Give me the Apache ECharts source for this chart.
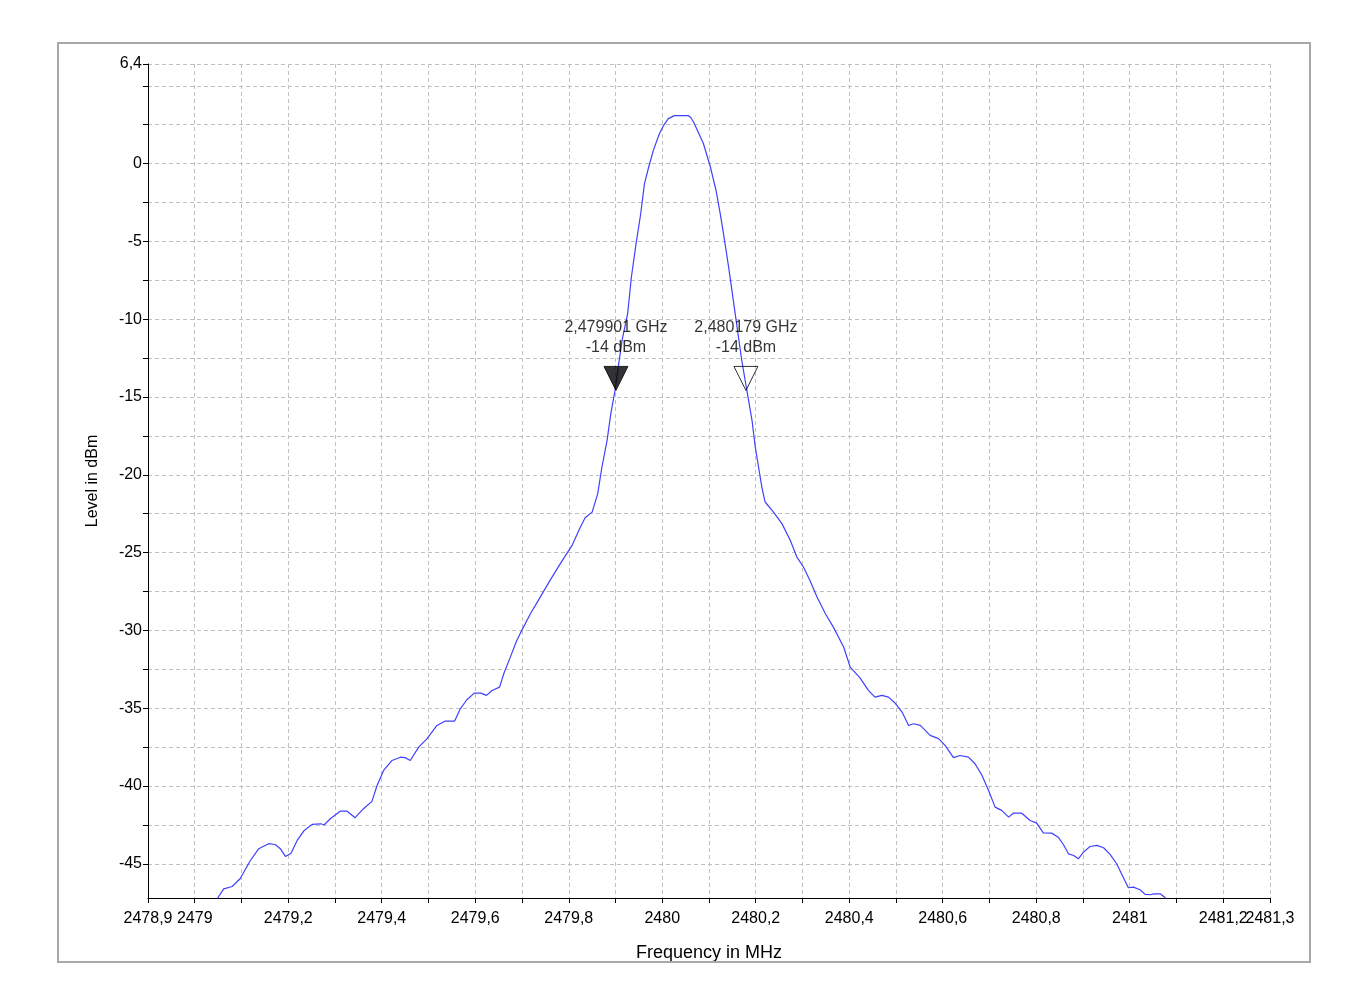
<!DOCTYPE html>
<html>
<head>
<meta charset="utf-8">
<title>Spectrum</title>
<script src="https://cdn.jsdelivr.net/npm/echarts@6/dist/echarts.min.js"></script>
<style>
  html, body { margin: 0; padding: 0; background: #fff; }
  #chart { width: 1370px; height: 1007px; }
</style>
</head>
<body>
<div id="chart"></div>
<script>
// frequency in MHz, level in dBm
var freqs = [
  2479.040, 2479.048, 2479.062, 2479.080, 2479.097, 2479.119, 2479.137, 2479.158, 2479.172, 2479.183,
  2479.194, 2479.206, 2479.219, 2479.233, 2479.251, 2479.269, 2479.277, 2479.290, 2479.311, 2479.326,
  2479.343, 2479.361, 2479.379, 2479.390, 2479.404, 2479.422, 2479.440, 2479.450, 2479.461, 2479.479,
  2479.497, 2479.518, 2479.536, 2479.556, 2479.568, 2479.582, 2479.598, 2479.612, 2479.624, 2479.636,
  2479.652, 2479.661, 2479.675, 2479.689, 2479.696, 2479.718, 2479.739, 2479.760, 2479.782, 2479.807,
  2479.825, 2479.835, 2479.850, 2479.862, 2479.871, 2479.882, 2479.890, 2479.899, 2479.906, 2479.914,
  2479.926, 2479.934, 2479.944, 2479.954, 2479.962, 2479.971, 2479.981, 2479.993, 2480.003, 2480.013,
  2480.026, 2480.056, 2480.061, 2480.067, 2480.088, 2480.103, 2480.115, 2480.124, 2480.131, 2480.142,
  2480.152, 2480.162, 2480.170, 2480.181, 2480.192, 2480.199, 2480.206, 2480.213, 2480.220, 2480.238,
  2480.256, 2480.274, 2480.288, 2480.302, 2480.316, 2480.331, 2480.349, 2480.366, 2480.388, 2480.402,
  2480.423, 2480.441, 2480.455, 2480.470, 2480.484, 2480.498, 2480.513, 2480.527, 2480.537, 2480.552,
  2480.573, 2480.591, 2480.605, 2480.623, 2480.637, 2480.655, 2480.669, 2480.684, 2480.698, 2480.712,
  2480.726, 2480.741, 2480.751, 2480.769, 2480.787, 2480.801, 2480.815, 2480.833, 2480.847, 2480.858,
  2480.869, 2480.880, 2480.890, 2480.901, 2480.915, 2480.930, 2480.944, 2480.958, 2480.972, 2480.986,
  2480.997, 2481.008, 2481.022, 2481.033, 2481.044, 2481.051, 2481.065, 2481.076, 2481.085
];
var levels = [
  -47.70, -47.25, -46.61, -46.46, -45.96, -44.79, -44.03, -43.71, -43.76, -44.03,
  -44.53, -44.32, -43.50, -42.90, -42.47, -42.43, -42.49, -42.11, -41.62, -41.62,
  -42.04, -41.46, -40.99, -39.97, -39.00, -38.36, -38.15, -38.18, -38.36, -37.50,
  -36.96, -36.11, -35.83, -35.83, -35.04, -34.46, -34.03, -34.03, -34.18, -33.86,
  -33.65, -32.79, -31.72, -30.64, -30.21, -28.93, -27.86, -26.79, -25.71, -24.54,
  -23.36, -22.76, -22.40, -21.21, -19.50, -17.79, -16.07, -14.57, -13.07, -11.36,
  -9.64, -7.29, -5.14, -3.21, -1.29, -0.22, 0.85, 1.85, 2.46, 2.89,
  3.08, 3.08, 2.96, 2.67, 1.29, -0.22, -1.72, -3.21, -4.50, -6.65,
  -8.79, -10.93, -12.64, -14.57, -16.50, -18.22, -19.50, -20.79, -21.75, -22.40,
  -23.14, -24.22, -25.29, -25.93, -26.79, -27.86, -28.93, -29.79, -31.07, -32.36,
  -33.05, -33.86, -34.29, -34.18, -34.29, -34.67, -35.25, -36.11, -36.00, -36.11,
  -36.75, -36.96, -37.39, -38.18, -38.04, -38.15, -38.57, -39.32, -40.29, -41.36,
  -41.57, -42.00, -41.75, -41.75, -42.22, -42.39, -43.01, -43.03, -43.29, -43.76,
  -44.36, -44.47, -44.68, -44.25, -43.89, -43.82, -43.97, -44.40, -45.00, -45.86,
  -46.54, -46.50, -46.67, -46.97, -46.99, -46.93, -46.93, -47.18, -47.70
];

// markers
var markerFreqs = [2479.901, 2480.179];
var markerLevels = [-14, -14];

// axis ticks and labels
var xTicks = [2478.9, 2479.0, 2479.1, 2479.2, 2479.3, 2479.4, 2479.5, 2479.6, 2479.7, 2479.8, 2479.9,
  2480.0, 2480.1, 2480.2, 2480.3, 2480.4, 2480.5, 2480.6, 2480.7, 2480.8, 2480.9, 2481.0, 2481.1, 2481.2, 2481.3];
var xLabels = [2478.9, 2479.0, 2479.2, 2479.4, 2479.6, 2479.8, 2480.0, 2480.2, 2480.4, 2480.6,
  2480.8, 2481.0, 2481.2];
var xEndLabels = [2481.3];
var yTicks = [-45, -42.5, -40, -37.5, -35, -32.5, -30, -27.5, -25, -22.5, -20, -17.5, -15, -12.5,
  -10, -7.5, -5, -2.5, 0, 2.5, 5, 6.4];
var yLabels = [-45, -40, -35, -30, -25, -20, -15, -10, -5, 0, 6.4];

var FONT = "'Liberation Sans', Arial, sans-serif";
var X_MIN = 2478.9, X_MAX = 2481.3;

function comma(v) {
    return String(v).replace('.', ',');
}

var traceData = freqs.map(function (f, i) { return [f, levels[i]]; });
var markerData = markerFreqs.map(function (f, i) {
    return {
        value: [f, markerLevels[i]],
        itemStyle: i === 0
            ? { color: '#000', borderColor: '#000', borderWidth: 1 }
            : { color: 'rgba(0,0,0,0)', borderColor: '#000', borderWidth: 1 }
    };
});

var xLabelStyle = {
    showMinLabel: true,
    showMaxLabel: true,
    hideOverlap: false,
    color: '#000',
    fontSize: 16,
    margin: 13,
    fontFamily: FONT,
    formatter: function (v) { return comma(v); }
};

var myChart = echarts.init(document.getElementById('chart'));

var option = {
    backgroundColor: '#fff',
    animation: false,
    textStyle: { fontFamily: FONT },
    grid: {
        left: 148,
        right: 100,
        top: 64,
        bottom: 109
    },
    xAxis: [
        {
            type: 'value',
            min: X_MIN,
            max: X_MAX,
            position: 'bottom',
            name: 'Frequency in MHz',
            nameLocation: 'middle',
            nameGap: 46,
            nameTextStyle: { color: '#000', fontSize: 18, fontFamily: FONT },
            axisLine: { onZero: false, lineStyle: { color: '#000', width: 1 } },
            axisTick: { show: true, length: 5, customValues: xTicks, lineStyle: { color: '#000' } },
            axisLabel: Object.assign({ customValues: xLabels }, xLabelStyle),
            splitLine: {
                show: true,
                lineStyle: { color: '#c0c0c0', type: [4, 3], width: 1 }
            }
        },
        {
            // only carries the right-end label so it is not dropped for overlapping
            type: 'value',
            min: X_MIN,
            max: X_MAX,
            position: 'bottom',
            offset: 0,
            axisLine: { show: false, onZero: false },
            axisTick: { show: false },
            splitLine: { show: false },
            axisLabel: Object.assign({ customValues: xEndLabels }, xLabelStyle)
        }
    ],
    yAxis: {
        type: 'value',
        min: -47.2,
        max: 6.4,
        name: 'Level in dBm',
        nameLocation: 'middle',
        nameGap: 47,
        nameTextStyle: { color: '#000', fontSize: 16, fontFamily: FONT },
        axisLine: { show: true, onZero: false, lineStyle: { color: '#000', width: 1 } },
        axisTick: { show: true, length: 5, customValues: yTicks, lineStyle: { color: '#000' } },
        axisLabel: {
            customValues: yLabels,
            showMinLabel: true,
            showMaxLabel: true,
            hideOverlap: false,
            color: '#000',
            fontSize: 16,
            margin: 6,
            fontFamily: FONT,
            formatter: function (v) { return comma(v); }
        },
        splitLine: {
            show: true,
            lineStyle: { color: '#c0c0c0', type: [4, 3], width: 1 }
        }
    },
    series: [
        {
            type: 'line',
            data: traceData,
            showSymbol: false,
            symbol: 'none',
            lineStyle: { color: '#4040ff', width: 1.2 },
            clip: true,
            z: 2
        },
        {
            type: 'scatter',
            data: markerData,
            symbol: 'triangle',
            symbolRotate: 180,
            symbolSize: [24, 24],
            symbolOffset: [0, -3],
            z: 3,
            label: {
                show: true,
                position: 'top',
                distance: 8,
                color: '#000',
                fontSize: 16,
                lineHeight: 20,
                fontFamily: FONT,
                formatter: function (p) {
                    var ghz = (p.value[0] / 1000).toFixed(6);
                    return comma(ghz) + ' GHz\n' + p.value[1] + ' dBm';
                }
            }
        }
    ],
    graphic: [
        {
            type: 'rect',
            z: 100,
            shape: { x: 58, y: 43, width: 1252, height: 919 },
            style: { fill: 'none', stroke: '#a8a8a8', lineWidth: 2 }
        }
    ]
};

myChart.setOption(option);
</script>
</body>
</html>
